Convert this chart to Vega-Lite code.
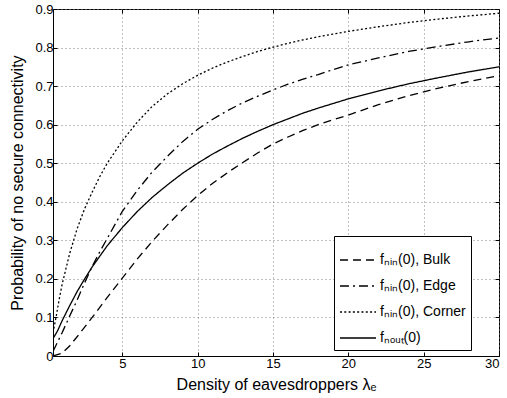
{
  "$schema": "https://vega.github.io/schema/vega-lite/v6.json",
  "width": 446,
  "height": 347,
  "autosize": {"type": "none"},
  "padding": {"left": 53, "top": 9, "right": 8, "bottom": 42},
  "background": "white",
  "config": {
    "font": "Liberation Sans",
    "view": {"stroke": "black", "strokeWidth": 1},
    "axis": {
      "domainColor": "black",
      "tickColor": "black",
      "labelColor": "black",
      "titleColor": "black",
      "labelFontSize": 13,
      "titleFontSize": 16,
      "titleFontWeight": "normal",
      "tickSize": -4,
      "gridColor": "#808080",
      "gridDash": [1, 3],
      "gridWidth": 1
    }
  },
  "datasets": {
    "curves": [
      {"lambda": 0.4, "p": 0.0, "series": "Bulk"},
      {"lambda": 1, "p": 0.007, "series": "Bulk"},
      {"lambda": 1.5, "p": 0.026, "series": "Bulk"},
      {"lambda": 2, "p": 0.05, "series": "Bulk"},
      {"lambda": 2.5, "p": 0.075, "series": "Bulk"},
      {"lambda": 3, "p": 0.1, "series": "Bulk"},
      {"lambda": 4, "p": 0.152, "series": "Bulk"},
      {"lambda": 5, "p": 0.202, "series": "Bulk"},
      {"lambda": 6, "p": 0.252, "series": "Bulk"},
      {"lambda": 7, "p": 0.298, "series": "Bulk"},
      {"lambda": 8, "p": 0.34, "series": "Bulk"},
      {"lambda": 9, "p": 0.38, "series": "Bulk"},
      {"lambda": 10, "p": 0.416, "series": "Bulk"},
      {"lambda": 11, "p": 0.448, "series": "Bulk"},
      {"lambda": 12, "p": 0.476, "series": "Bulk"},
      {"lambda": 13, "p": 0.502, "series": "Bulk"},
      {"lambda": 14, "p": 0.527, "series": "Bulk"},
      {"lambda": 15, "p": 0.55, "series": "Bulk"},
      {"lambda": 16, "p": 0.568, "series": "Bulk"},
      {"lambda": 17, "p": 0.585, "series": "Bulk"},
      {"lambda": 18, "p": 0.6, "series": "Bulk"},
      {"lambda": 19, "p": 0.613, "series": "Bulk"},
      {"lambda": 20, "p": 0.625, "series": "Bulk"},
      {"lambda": 22, "p": 0.652, "series": "Bulk"},
      {"lambda": 24, "p": 0.675, "series": "Bulk"},
      {"lambda": 26, "p": 0.695, "series": "Bulk"},
      {"lambda": 28, "p": 0.712, "series": "Bulk"},
      {"lambda": 30, "p": 0.727, "series": "Bulk"},

      {"lambda": 0.4, "p": 0.012, "series": "Edge"},
      {"lambda": 0.6, "p": 0.028, "series": "Edge"},
      {"lambda": 1, "p": 0.06, "series": "Edge"},
      {"lambda": 1.5, "p": 0.103, "series": "Edge"},
      {"lambda": 2, "p": 0.145, "series": "Edge"},
      {"lambda": 2.5, "p": 0.19, "series": "Edge"},
      {"lambda": 3, "p": 0.232, "series": "Edge"},
      {"lambda": 3.5, "p": 0.27, "series": "Edge"},
      {"lambda": 4, "p": 0.305, "series": "Edge"},
      {"lambda": 4.5, "p": 0.34, "series": "Edge"},
      {"lambda": 5, "p": 0.375, "series": "Edge"},
      {"lambda": 6, "p": 0.43, "series": "Edge"},
      {"lambda": 7, "p": 0.478, "series": "Edge"},
      {"lambda": 8, "p": 0.518, "series": "Edge"},
      {"lambda": 9, "p": 0.556, "series": "Edge"},
      {"lambda": 10, "p": 0.588, "series": "Edge"},
      {"lambda": 11, "p": 0.614, "series": "Edge"},
      {"lambda": 12, "p": 0.637, "series": "Edge"},
      {"lambda": 13, "p": 0.657, "series": "Edge"},
      {"lambda": 14, "p": 0.674, "series": "Edge"},
      {"lambda": 15, "p": 0.69, "series": "Edge"},
      {"lambda": 16, "p": 0.705, "series": "Edge"},
      {"lambda": 17, "p": 0.718, "series": "Edge"},
      {"lambda": 18, "p": 0.73, "series": "Edge"},
      {"lambda": 19, "p": 0.743, "series": "Edge"},
      {"lambda": 20, "p": 0.755, "series": "Edge"},
      {"lambda": 22, "p": 0.773, "series": "Edge"},
      {"lambda": 24, "p": 0.79, "series": "Edge"},
      {"lambda": 26, "p": 0.803, "series": "Edge"},
      {"lambda": 28, "p": 0.815, "series": "Edge"},
      {"lambda": 30, "p": 0.825, "series": "Edge"},

      {"lambda": 0.4, "p": 0.06, "series": "Corner"},
      {"lambda": 0.6, "p": 0.1, "series": "Corner"},
      {"lambda": 0.8, "p": 0.145, "series": "Corner"},
      {"lambda": 1, "p": 0.185, "series": "Corner"},
      {"lambda": 1.5, "p": 0.265, "series": "Corner"},
      {"lambda": 2, "p": 0.33, "series": "Corner"},
      {"lambda": 2.5, "p": 0.382, "series": "Corner"},
      {"lambda": 3, "p": 0.425, "series": "Corner"},
      {"lambda": 3.5, "p": 0.465, "series": "Corner"},
      {"lambda": 4, "p": 0.5, "series": "Corner"},
      {"lambda": 5, "p": 0.558, "series": "Corner"},
      {"lambda": 6, "p": 0.607, "series": "Corner"},
      {"lambda": 7, "p": 0.648, "series": "Corner"},
      {"lambda": 8, "p": 0.68, "series": "Corner"},
      {"lambda": 9, "p": 0.706, "series": "Corner"},
      {"lambda": 10, "p": 0.728, "series": "Corner"},
      {"lambda": 11, "p": 0.747, "series": "Corner"},
      {"lambda": 12, "p": 0.763, "series": "Corner"},
      {"lambda": 13, "p": 0.777, "series": "Corner"},
      {"lambda": 14, "p": 0.79, "series": "Corner"},
      {"lambda": 15, "p": 0.801, "series": "Corner"},
      {"lambda": 16, "p": 0.811, "series": "Corner"},
      {"lambda": 17, "p": 0.82, "series": "Corner"},
      {"lambda": 18, "p": 0.828, "series": "Corner"},
      {"lambda": 19, "p": 0.835, "series": "Corner"},
      {"lambda": 20, "p": 0.842, "series": "Corner"},
      {"lambda": 22, "p": 0.854, "series": "Corner"},
      {"lambda": 24, "p": 0.865, "series": "Corner"},
      {"lambda": 26, "p": 0.874, "series": "Corner"},
      {"lambda": 28, "p": 0.882, "series": "Corner"},
      {"lambda": 30, "p": 0.889, "series": "Corner"},

      {"lambda": 0.4, "p": 0.045, "series": "Nout"},
      {"lambda": 0.7, "p": 0.065, "series": "Nout"},
      {"lambda": 1, "p": 0.091, "series": "Nout"},
      {"lambda": 1.5, "p": 0.13, "series": "Nout"},
      {"lambda": 2, "p": 0.167, "series": "Nout"},
      {"lambda": 2.5, "p": 0.2, "series": "Nout"},
      {"lambda": 3, "p": 0.231, "series": "Nout"},
      {"lambda": 4, "p": 0.286, "series": "Nout"},
      {"lambda": 5, "p": 0.333, "series": "Nout"},
      {"lambda": 6, "p": 0.375, "series": "Nout"},
      {"lambda": 7, "p": 0.412, "series": "Nout"},
      {"lambda": 8, "p": 0.444, "series": "Nout"},
      {"lambda": 9, "p": 0.474, "series": "Nout"},
      {"lambda": 10, "p": 0.5, "series": "Nout"},
      {"lambda": 11, "p": 0.524, "series": "Nout"},
      {"lambda": 12, "p": 0.545, "series": "Nout"},
      {"lambda": 13, "p": 0.565, "series": "Nout"},
      {"lambda": 14, "p": 0.583, "series": "Nout"},
      {"lambda": 15, "p": 0.6, "series": "Nout"},
      {"lambda": 16, "p": 0.615, "series": "Nout"},
      {"lambda": 17, "p": 0.63, "series": "Nout"},
      {"lambda": 18, "p": 0.643, "series": "Nout"},
      {"lambda": 19, "p": 0.655, "series": "Nout"},
      {"lambda": 20, "p": 0.667, "series": "Nout"},
      {"lambda": 22, "p": 0.6875, "series": "Nout"},
      {"lambda": 24, "p": 0.706, "series": "Nout"},
      {"lambda": 26, "p": 0.722, "series": "Nout"},
      {"lambda": 28, "p": 0.737, "series": "Nout"},
      {"lambda": 30, "p": 0.75, "series": "Nout"}
    ]
  },
  "data": {"name": "curves"},
  "layer": [
    {
      "mark": {"type": "line", "color": "black", "strokeWidth": 1.3, "clip": true},
      "encoding": {
        "x": {
          "field": "lambda", "type": "quantitative",
          "scale": {"domain": [0.4, 30], "nice": false, "zero": false},
          "axis": {"title": "Density of eavesdroppers λₑ", "values": [5, 10, 15, 20, 25, 30], "labelPadding": 5, "titlePadding": 6, "grid": true}
        },
        "y": {
          "field": "p", "type": "quantitative",
          "scale": {"domain": [0, 0.9], "nice": false},
          "axis": {"title": "Probability of no secure connectivity", "values": [0, 0.1, 0.2, 0.3, 0.4, 0.5, 0.6, 0.7, 0.8, 0.9], "format": "~g", "labelPadding": 4, "titlePadding": 9, "grid": true}
        },
        "strokeDash": {
          "field": "series", "type": "nominal",
          "scale": {"domain": ["Bulk", "Edge", "Corner", "Nout"], "range": [[8, 5], [9, 4, 2, 4], [2, 2.3], [1, 0]]},
          "legend": {
            "title": null,
            "orient": "none",
            "legendX": 281,
            "legendY": 227,
            "labelExpr": "datum.value == 'Bulk' ? 'fₙᵢₙ(0), Bulk' : datum.value == 'Edge' ? 'fₙᵢₙ(0), Edge' : datum.value == 'Corner' ? 'fₙᵢₙ(0), Corner' : 'fₙₒᵤₜ(0)'",
            "symbolType": "stroke",
            "symbolSize": 1300,
            "symbolStrokeColor": "black",
            "symbolStrokeWidth": 1.3,
            "labelFontSize": 14,
            "labelColor": "black",
            "strokeColor": "black",
            "fillColor": "white",
            "padding": 5,
            "cornerRadius": 0,
            "rowPadding": 0,
            "labelOffset": 3
          }
        }
      }
    },
    {
      "mark": {"type": "line", "strokeOpacity": 0},
      "encoding": {
        "x": {"field": "lambda", "type": "quantitative", "axis": {"orient": "top", "labels": false, "title": null, "domain": false, "grid": false, "values": [5, 10, 15, 20, 25, 30]}},
        "y": {"field": "p", "type": "quantitative", "axis": {"orient": "right", "labels": false, "title": null, "domain": false, "grid": false, "values": [0, 0.1, 0.2, 0.3, 0.4, 0.5, 0.6, 0.7, 0.8, 0.9]}},
        "detail": {"field": "series"}
      }
    }
  ],
  "resolve": {"axis": {"x": "independent", "y": "independent"}}
}
